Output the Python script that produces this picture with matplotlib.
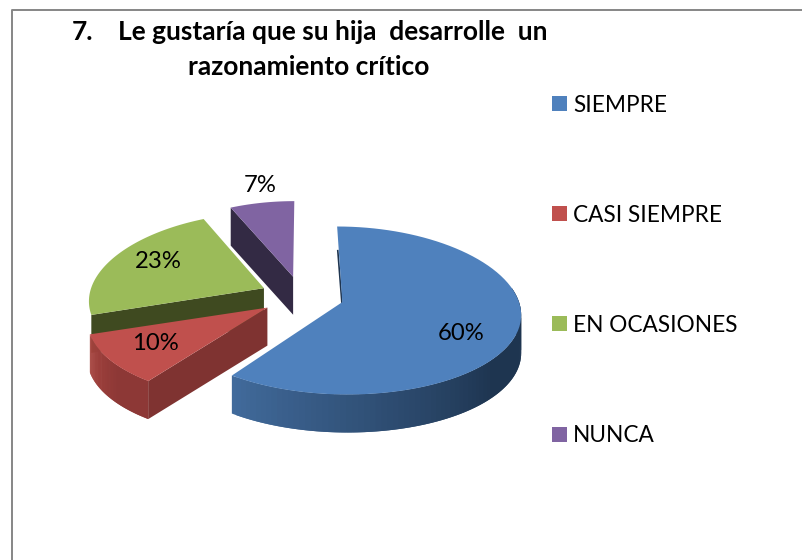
import numpy as np
import matplotlib
matplotlib.use('Agg')
import matplotlib.pyplot as plt
from matplotlib.colors import to_rgb
from matplotlib.patches import Polygon, Rectangle

categories = ['SIEMPRE', 'CASI SIEMPRE', 'EN OCASIONES', 'NUNCA']
values = [60, 10, 23, 7]
explode = 42
colors = ['#4f81bd', '#c0504d', '#9bbb59', '#8064a2']
inner_colors = ['#1f3550', '#7f3331', '#3f4a20', '#332a44']
label_pos = [(461, 333), (155, 344), (158, 262), (260, 186)]
legend_y = [105, 215, 325, 436]

plt.rcParams['font.family'] = ['Lato', 'DejaVu Sans']

fig = plt.figure(figsize=(8.02, 5.6), dpi=100)
ax = fig.add_axes([0, 0, 1, 1])
ax.set_xlim(0, 802)
ax.set_ylim(560, 0)
ax.axis('off')

cx, cy = 302, 296    # pie centre before the slices are pulled out
R, Ry = 175, 84      # radii of the tilted disc
k = 0.1              # front of the disc looks bigger than the back
ks = 0.13            # same thing for the width, over the whole pie
depth = 38

# slice angles come from the values
edges = np.cumsum([0] + values) * 3.6
mids = np.radians((edges[:-1] + edges[1:]) / 2)
shift_x = explode * np.sin(mids)
shift_v = -explode * np.cos(mids) / R
apex_y = cy + explode * 0.47 * -np.cos(mids)


def apex(i):
    s = 1 + ks * shift_v[i]
    return np.array([cx + shift_x[i] * s, apex_y[i]])


def rim(i, deg):
    # deg goes clockwise from 12 o'clock
    t = np.radians(deg)
    u, v = np.sin(t), -np.cos(t)
    s = 1 + ks * (v + shift_v[i])
    return np.column_stack([cx + (shift_x[i] + R * u) * s,
                            apex_y[i] + Ry * v * (1 + k * v)])


def wall(i, a, b, c1, c2, z):
    # outer side of a slice, overlapping quads so the shade can change along it
    steps = np.linspace(a, b, 81)
    c1, c2 = np.array(to_rgb(c1)), np.array(to_rgb(c2))
    for j in range(80):
        p = rim(i, steps[j:j + 3])
        quad = np.vstack([p, p[::-1] + [0, depth]])
        c = c1 + (c2 - c1) * min(1, j / 50)
        ax.add_patch(Polygon(quad, fc=c, ec='none', zorder=z))


def inner(i, deg, z):
    a0 = apex(i)
    tip = rim(i, deg)[0]
    quad = [a0, tip, tip + [0, depth], a0 + [0, depth]]
    ax.add_patch(Polygon(quad, fc=inner_colors[i], ec='none', zorder=z))


# back to front: purple, green, red, blue
for z, i in enumerate([3, 2, 1, 0]):
    a, b = edges[i], edges[i + 1]
    base = z * 4 + 2
    if i == 0:
        wall(i, 216, 80, '#416a9b', '#1e3550', base)
        a0, tip = apex(i), rim(i, 0)[0]
        q = a0 + (tip - a0) * 0.68
        ax.plot([a0[0] - 0.5, q[0] - 1], [a0[1], q[1]], color=inner_colors[0],
                lw=1.2, zorder=base)
    elif i == 1:
        wall(i, b, a, '#a8443f', '#8d3836', base)
        inner(i, a, base + 1)
    else:
        inner(i, a, base + 1)
    top = np.vstack([[apex(i)], rim(i, np.linspace(a, b, 80))])
    ax.add_patch(Polygon(top, fc=colors[i], ec='none', zorder=base + 2))

for i in range(len(values)):
    ax.text(label_pos[i][0], label_pos[i][1], '%d%%' % values[i], fontsize=17.2,
            ha='center', va='center', color='black', zorder=40)

# legend
for i, name in enumerate(categories):
    ax.add_patch(Rectangle((552, legend_y[i] - 9), 15, 15, fc=colors[i], ec='none'))
    ax.text(573, legend_y[i], name, fontsize=16.3, ha='left', va='center', color='black')

# title
ax.text(72, 32, '7.', fontsize=19, fontweight='bold', ha='left', va='center')
ax.text(118, 32, 'Le gustaría que su hija  desarrolle  un', fontsize=19,
        fontweight='bold', ha='left', va='center')
ax.text(188, 67, 'razonamiento crítico', fontsize=19, fontweight='bold',
        ha='left', va='center')

# chart frame, only top and left are in the crop
ax.plot([12, 12, 802], [560, 10, 10], color='#868686', lw=1.4, zorder=50)

fig.savefig('out.png', dpi=100)
